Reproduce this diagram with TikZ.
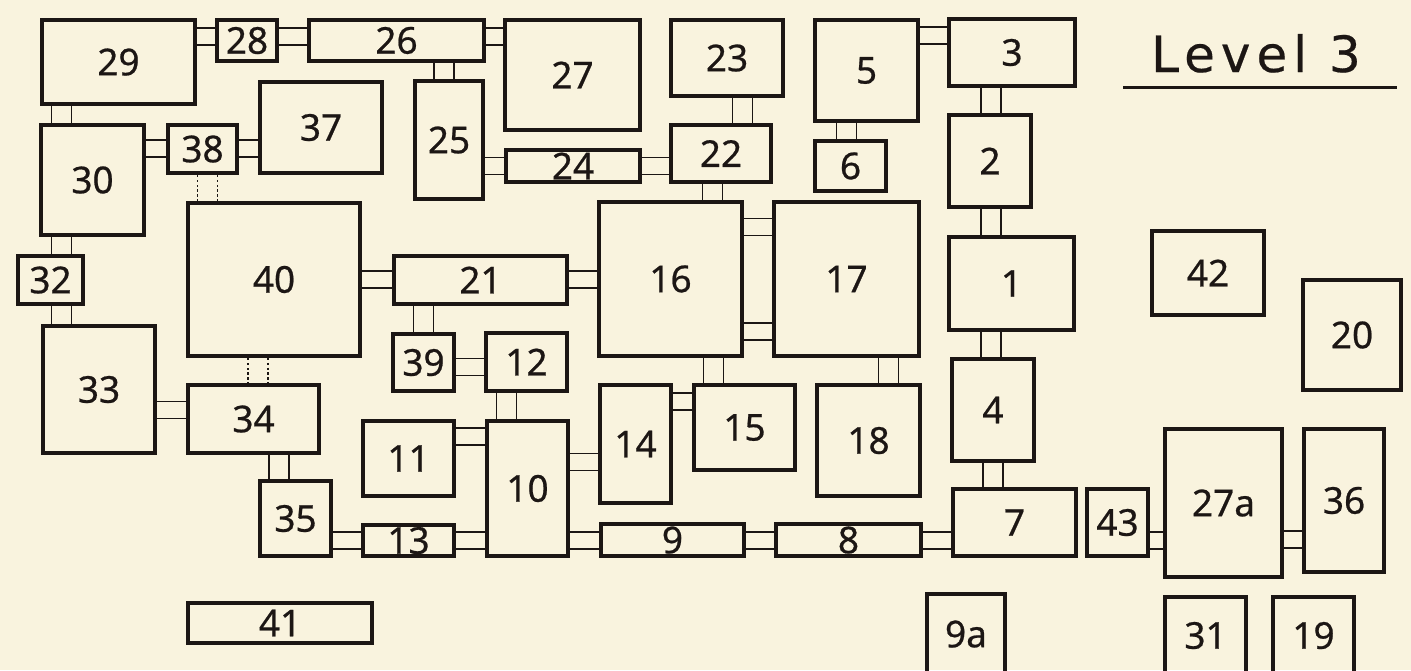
\documentclass[tikz,border=0pt]{standalone}
\usepackage{fontspec}
\setmainfont{Noto Sans}[FakeBold=0.6]
\newfontfamily\titlefont[LetterSpace=12,FakeBold=0.4]{DejaVu Sans}
\usetikzlibrary{fit}
\definecolor{paper}{RGB}{249,243,222}
\definecolor{ink}{RGB}{28,22,20}

\begin{document}
\begin{tikzpicture}[x=0.5pt, y=-0.5pt, font=\fontsize{18.5}{20}\selectfont,
    room/.style={draw=ink, line width=2.2pt, inner sep=-1.1pt},
    every label/.style={text=ink},
    door/.style={draw=ink, line width=0.8pt, double=paper, double distance=7.7pt},
    vdoor/.style={door, double distance=9.2pt},
    secret/.style={vdoor, dash pattern=on 1.2pt off 1.2pt}]
  \fill[paper] (0,0) rectangle (1411,670);
  \clip (0,0) rectangle (1411,670);

  % rooms, top row first
  \node[room, fit={(40,18) (197,106)}, label=center:29] (r29) {};
  \node[room, fit={(215,18) (279,63)}, label=center:28] (r28) {};
  \node[room, fit={(307,18) (486,63)}, label=center:26] (r26) {};
  \node[room, fit={(503,18) (642,132)}, label=center:27] (r27) {};
  \node[room, fit={(669,18) (785,98)}, label=center:23] (r23) {};
  \node[room, fit={(813,18) (920,123)}, label=center:5] (r5) {};
  \node[room, fit={(947,17) (1077,88)}, label=center:3] (r3) {};
  \node[room, fit={(39,123) (146,237)}, label=center:30] (r30) {};
  \node[room, fit={(166,123) (239,175)}, label=center:38] (r38) {};
  \node[room, fit={(258,80) (384,175)}, label=center:37] (r37) {};
  \node[room, fit={(413,79) (485,201)}, label=center:25] (r25) {};
  \node[room, fit={(504,148) (642,184)}, label=center:24] (r24) {};
  \node[room, fit={(669,123) (773,184)}, label=center:22] (r22) {};
  \node[room, fit={(813,139) (888,193)}, label=center:6] (r6) {};
  \node[room, fit={(947,113) (1033,209)}, label=center:2] (r2) {};
  \node[room, fit={(186,201) (362,358)}, label=center:40] (r40) {};
  \node[room, fit={(16,254) (85,306)}, label=center:32] (r32) {};
  \node[room, fit={(392,254) (569,306)}, label=center:21] (r21) {};
  \node[room, fit={(597,200) (744,358)}, label=center:16] (r16) {};
  \node[room, fit={(772,200) (921,358)}, label=center:17] (r17) {};
  \node[room, fit={(947,235) (1076,332)}, label=center:1] (r1) {};
  \node[room, fit={(1150,229) (1266,317)}, label=center:42] (r42) {};
  \node[room, fit={(1301,278) (1403,392)}, label=center:20] (r20) {};
  \node[room, fit={(41,324) (157,455)}, label=center:33] (r33) {};
  \node[room, fit={(391,332) (456,393)}, label=center:39] (r39) {};
  \node[room, fit={(484,331) (569,393)}, label=center:12] (r12) {};
  \node[room, fit={(186,383) (321,455)}, label=center:34] (r34) {};
  \node[room, fit={(598,383) (673,505)}, label=center:14] (r14) {};
  \node[room, fit={(692,383) (797,472)}, label=center:15] (r15) {};
  \node[room, fit={(815,383) (922,498)}, label=center:18] (r18) {};
  \node[room, fit={(950,357) (1036,463)}, label=center:4] (r4) {};
  \node[room, fit={(361,419) (456,498)}, label=center:11] (r11) {};
  \node[room, fit={(485,419) (570,558)}, label=center:10] (r10) {};
  \node[room, fit={(258,479) (333,558)}, label=center:35] (r35) {};
  \node[room, fit={(361,523) (456,558)}, label=center:13] (r13) {};
  \node[room, fit={(599,522) (746,558)}, label=center:9] (r9) {};
  \node[room, fit={(774,522) (923,558)}, label=center:8] (r8) {};
  \node[room, fit={(951,487) (1078,558)}, label=center:7] (r7) {};
  \node[room, fit={(1085,487) (1150,558)}, label=center:43] (r43) {};
  \node[room, fit={(1163,427) (1284,579)}, label=center:27a] (r27a) {};
  \node[room, fit={(1302,427) (1386,574)}, label=center:36] (r36) {};
  \node[room, fit={(186,601) (374,645)}, label=center:41] (r41) {};
  % cut off by the lower edge
  \node[room, fit={(925,592) (1007,676)}, label=center:9a] (r9a) {};
  \node[room, fit={(1163,595) (1248,676)}, label=center:31] (r31) {};
  \node[room, fit={(1271,595) (1356,676)}, label=center:19] (r19) {};

  % horizontal passages
  \draw[door] (r29.east |- 0,36.5) -- (r28.west |- 0,36.5);
  \draw[door] (r28.east |- 0,36.5) -- (r26.west |- 0,36.5);
  \draw[door] (r26.east |- 0,36.5) -- (r27.west |- 0,36.5);
  \draw[door] (r5.east |- 0,35.5) -- (r3.west |- 0,35.5);
  \draw[door] (r30.east |- 0,148.5) -- (r38.west |- 0,148.5);
  \draw[door] (r38.east |- 0,148.5) -- (r37.west |- 0,148.5);
  \draw[door] (r25.east |- 0,166) -- (r24.west |- 0,166);
  \draw[door] (r24.east |- 0,166) -- (r22.west |- 0,166);
  \draw[door] (r40.east |- 0,279.5) -- (r21.west |- 0,279.5);
  \draw[door] (r21.east |- 0,279.5) -- (r16.west |- 0,279.5);
  \draw[door] (r16.east |- 0,227) -- (r17.west |- 0,227);
  \draw[door] (r16.east |- 0,331.5) -- (r17.west |- 0,331.5);
  \draw[door] (r39.east |- 0,367) -- (r12.west |- 0,367);
  \draw[door] (r11.east |- 0,436.5) -- (r10.west |- 0,436.5);
  \draw[door] (r10.east |- 0,462) -- (r14.west |- 0,462);
  \draw[door] (r14.east |- 0,401.5) -- (r15.west |- 0,401.5);
  \draw[door] (r33.east |- 0,410) -- (r34.west |- 0,410);
  \draw[door] (r35.east |- 0,540.5) -- (r13.west |- 0,540.5);
  \draw[door] (r13.east |- 0,540.5) -- (r10.west |- 0,540.5);
  \draw[door] (r10.east |- 0,540.5) -- (r9.west |- 0,540.5);
  \draw[door] (r9.east |- 0,540.5) -- (r8.west |- 0,540.5);
  \draw[door] (r8.east |- 0,540.5) -- (r7.west |- 0,540.5);
  \draw[door] (r43.east |- 0,540.5) -- (r27a.west |- 0,540.5);
  \draw[door] (r27a.east |- 0,539.5) -- (r36.west |- 0,539.5);

  % vertical passages
  \draw[vdoor] (r26.south -| 444,0) -- (r25.north -| 444,0);
  \draw[vdoor] (r29.south -| 61.5,0) -- (r30.north -| 61.5,0);
  \draw[vdoor] (r30.south -| 61.5,0) -- (r32.north -| 61.5,0);
  \draw[vdoor] (r32.south -| 61.5,0) -- (r33.north -| 61.5,0);
  \draw[vdoor] (r21.south -| 423.5,0) -- (r39.north -| 423.5,0);
  \draw[vdoor] (r23.south -| 742.5,0) -- (r22.north -| 742.5,0);
  \draw[vdoor] (r22.south -| 712.5,0) -- (r16.north -| 712.5,0);
  \draw[vdoor] (r5.south -| 846.5,0) -- (r6.north -| 846.5,0);
  \draw[vdoor] (r3.south -| 991,0) -- (r2.north -| 991,0);
  \draw[vdoor] (r2.south -| 991,0) -- (r1.north -| 991,0);
  \draw[vdoor] (r1.south -| 991,0) -- (r4.north -| 991,0);
  \draw[vdoor] (r4.south -| 993,0) -- (r7.north -| 993,0);
  \draw[vdoor] (r12.south -| 506.5,0) -- (r10.north -| 506.5,0);
  \draw[vdoor] (r16.south -| 713.5,0) -- (r15.north -| 713.5,0);
  \draw[vdoor] (r17.south -| 888.5,0) -- (r18.north -| 888.5,0);
  \draw[vdoor] (r34.south -| 279,0) -- (r35.north -| 279,0);
  \draw[secret] (r38.south -| 207.5,0) -- (r40.north -| 207.5,0);
  \draw[secret] (r40.south -| 258,0) -- (r34.north -| 258,0);

  % title
  \node[text=ink, font=\titlefont\fontsize{25}{28}\selectfont, anchor=base,
        inner sep=0] (level) at (1256,72) {Level 3};
  \draw[ink, line width=1.5pt] (level.base -| 1123,0) ++(0,15) -- ++(274,0);
\end{tikzpicture}
\end{document}
